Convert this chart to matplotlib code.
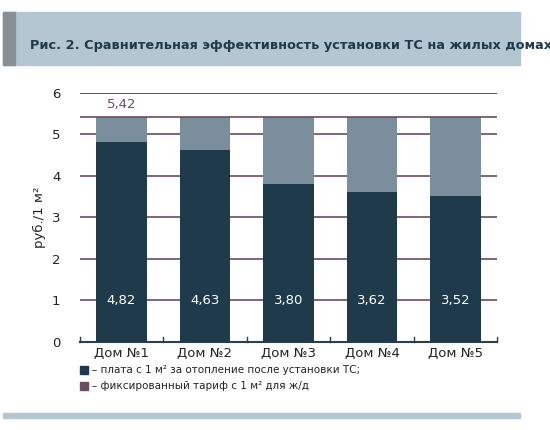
import matplotlib
matplotlib.use("Agg")
import matplotlib.pyplot as plt
from matplotlib.patches import Rectangle

houses = ["Дом №1", "Дом №2", "Дом №3", "Дом №4", "Дом №5"]
after = [4.82, 4.63, 3.80, 3.62, 3.52]
tariff = 5.42
after_labels = ["4,82", "4,63", "3,80", "3,62", "3,52"]

dark = "#1f3a4b"
gray = "#7b8e9b"
gridc = "#6e4a60"

fig = plt.figure(figsize=(5.5, 4.3), dpi=100)
fig.patch.set_facecolor("white")
fig.patches.append(Rectangle((3/550, 1-65/430), 517/550, 53/430, transform=fig.transFigure, color="#b5c6d3", zorder=0))
fig.patches.append(Rectangle((3/550, 1-65/430), 12/550, 53/430, transform=fig.transFigure, color="#8a8f94", zorder=1))
fig.patches.append(Rectangle((3/550, 1-418/430), 517/550, 5/430, transform=fig.transFigure, color="#b5c6d3", zorder=0))
fig.text(30/550, 1-46/430, "Рис. 2. Сравнительная эффективность установки ТС на жилых домах",
         fontsize=9.3, fontweight="bold", color="#1f3a4b", va="center")

ax = fig.add_axes([0.145, 0.205, 0.759, 0.579])
x = range(len(houses))
top = [tariff - a for a in after]
ax.bar(x, after, width=0.6, color=dark, zorder=3)
ax.bar(x, top, bottom=after, width=0.6, color=gray, zorder=3)
for i, (a, l) in enumerate(zip(after, after_labels)):
    ax.text(i, 1, l, color="white", ha="center", va="center", fontsize=9.5, zorder=4)
ax.text(0, 5.71, "5,42", color=gridc, ha="center", va="center", fontsize=9.5)
for yv in range(1, 7):
    ax.axhline(yv, color=gridc if yv < 6 else "#2a3f4f", lw=1.2, zorder=2)
ax.axhline(tariff, color=gridc, lw=1.2, zorder=4)
ax.set_ylim(0, 6)
ax.set_xlim(-0.5, 4.5)
ax.set_yticks(range(7))
ax.set_xticks(list(x))
ax.set_xticklabels(houses)
ax.tick_params(axis="both", length=0, labelsize=9.5, colors="#222222")
ax.tick_params(axis="y", pad=14)
for s in ["top", "right", "left"]:
    ax.spines[s].set_visible(False)
ax.spines["bottom"].set_color("#2a3f4f")
ax.spines["bottom"].set_linewidth(1.5)
for xm in [-0.5, 0.5, 1.5, 2.5, 3.5, 4.5]:
    ax.plot([xm, xm], [0, 0.12], color="#2a3f4f", lw=1, clip_on=False)
ax.set_ylabel("руб./1 м²", fontsize=9.5, color="#222222")

fig.patches.append(Rectangle((80/550, 1-374/430), 8/550, 8/430, transform=fig.transFigure, color=dark))
fig.patches.append(Rectangle((80/550, 1-390/430), 8/550, 8/430, transform=fig.transFigure, color="#6b4d61"))
fig.text(92/550, 1-370/430, "– плата с 1 м² за отопление после установки ТС;", fontsize=7.5, va="center", color="#222222")
fig.text(92/550, 1-386/430, "– фиксированный тариф с 1 м² для ж/д", fontsize=7.5, va="center", color="#222222")

fig.savefig("out.png", dpi=100)
